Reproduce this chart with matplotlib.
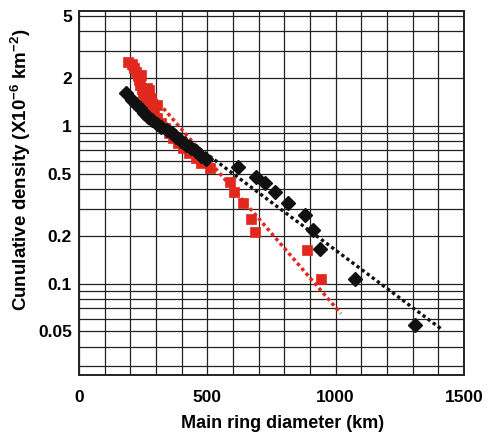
import numpy as np
import matplotlib
matplotlib.use("Agg")
import matplotlib.pyplot as plt
from matplotlib.ticker import FixedLocator

# ---- data ----
red_x = [192, 208, 216, 224, 231, 235, 239, 247, 251, 259, 266, 274, 282, 294, 305,
         321, 337, 352, 368, 387, 407, 430, 454, 477,
         243, 263, 274, 282, 302,
         509, 587, 604, 639, 669, 687, 890, 944]
red_y = [2.54, 2.47, 2.33, 2.20, 2.07, 1.95, 1.82, 1.71, 1.62, 1.53, 1.44, 1.36, 1.28, 1.21, 1.12,
         1.04, 0.97, 0.90, 0.84, 0.78, 0.73, 0.675, 0.63, 0.583,
         2.10, 1.74, 1.69, 1.50, 1.36,
         0.540, 0.445, 0.384, 0.324, 0.257, 0.214, 0.164, 0.108]

black_x = [185, 208, 224, 239, 255, 270, 286, 302, 321, 344, 364, 379, 399, 418, 438, 457, 477, 496,
           620, 691, 723, 762, 815, 882, 912, 938, 1077, 1308]
black_y = [1.62, 1.46, 1.38, 1.30, 1.21, 1.14, 1.09, 1.03, 0.99, 0.94, 0.90, 0.85, 0.80, 0.76, 0.73, 0.69, 0.65, 0.62,
           0.553, 0.473, 0.434, 0.384, 0.326, 0.272, 0.220, 0.166, 0.107, 0.055]

red_fit_x = [178, 1020]
red_fit_y = [2.49, 0.065]
black_fit_x = [172, 1416]
black_fit_y = [1.65, 0.0512]

x_labels = [0, 500, 1000, 1500]
y_labels = [0.05, 0.1, 0.2, 0.5, 1, 2, 5]
y_label_text = ["0.05", "0.1", "0.2", "0.5", "1", "2", "5"]

plt.rcParams['font.family'] = ['Liberation Sans', 'DejaVu Sans']
plt.rcParams['font.weight'] = 'bold'
plt.rcParams['mathtext.default'] = 'regular'

fig = plt.figure(figsize=(4.89, 4.34), dpi=100)
ax = fig.add_axes([79/489, 59/434, 385/489, 364/434])

red = '#e0281e'
ax.plot(red_fit_x, red_fit_y, color=red, lw=2.5, linestyle=(0, (1, 0.9)), zorder=3)
ax.plot(black_fit_x, black_fit_y, color='#111111', lw=2.4, linestyle=(0, (1, 0.9)), zorder=3)
ax.plot(red_x, red_y, 's', color=red, ms=6.5, mec=red, mew=0.5, ls='none', zorder=4)
ax.plot(black_x, black_y, 'D', color='#111111', ms=7, mec='#111111', ls='none', zorder=5)

ax.set_yscale('log')
ax.set_xlim(0, 1500)
ax.set_ylim(0.0265, 5.35)

ygrid = []
for dec in [0.01, 0.1, 1]:
    for m in range(1, 10):
        v = m * dec
        if 0.0265 < v < 5.35:
            ygrid.append(v)
ax.yaxis.set_major_locator(FixedLocator(y_labels))
ax.yaxis.set_minor_locator(FixedLocator(ygrid))
ax.set_yticklabels(y_label_text)
ax.yaxis.set_minor_formatter(plt.NullFormatter())

ax.xaxis.set_major_locator(FixedLocator(x_labels))
ax.xaxis.set_minor_locator(FixedLocator(np.arange(0, 1501, 100)))
ax.set_xticklabels([str(v) for v in x_labels])

ax.grid(True, which='both', color='#222222', lw=0.9)
ax.set_axisbelow(True)
ax.tick_params(which='both', length=0)
ax.tick_params(axis='y', pad=5, labelsize=12.5)
ax.tick_params(axis='x', pad=11, labelsize=12.5)
for lab in ax.get_xticklabels() + ax.get_yticklabels():
    lab.set_fontweight('bold')
for s in ax.spines.values():
    s.set_linewidth(1.4)
    s.set_color('#222222')

ax.set_xlabel('Main ring diameter (km)', fontsize=13, fontweight='bold')
ax.xaxis.set_label_coords(0.529, -0.11)
ax.set_ylabel('Cunulative density (X10$^{-6}$ km$^{-2}$)', fontsize=13.5,
              fontweight='bold')
ax.yaxis.set_label_coords(-0.12, 0.563)

fig.savefig('out.png', dpi=100)
